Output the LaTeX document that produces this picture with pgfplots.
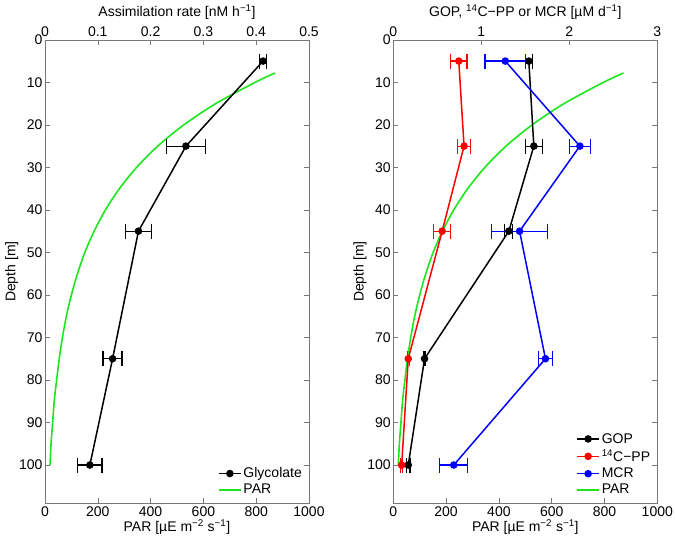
\documentclass[border=0pt]{standalone}
\usepackage{pgfplots}
\pgfplotsset{compat=1.18}
\usepackage{fontspec}
\setmainfont{Liberation Sans}
\definecolor{pargreen}{RGB}{30,230,30}
\definecolor{axgray}{RGB}{120,120,120}
\pgfplotstableread{
d par
7.8 872
10 796
15 647
20 526
25 427
30 347
35 282
40 229
45 186
50 151
55 123
60 100
65 81
70 66
75 54
80 44
85 35
90 29
95 23
100 19
}\partab
\pgfplotstableread{
x y e
0.413 5 0.006
0.267 25 0.037
0.177 45 0.025
0.128 75 0.018
0.085 100 0.023
}\glyc
\pgfplotstableread{
x y e
1.54 5 0.04
1.597 25 0.094
1.313 45 0.045
0.355 75 0.006
0.17 100 0.02
}\gop
\pgfplotstableread{
x y e
0.744 5 0.094
0.804 25 0.076
0.555 45 0.094
0.17 75 0.012
0.095 100 0.012
}\cpp
\pgfplotstableread{
x y e
1.272 5 0.23
2.12 25 0.12
1.435 45 0.315
1.729 75 0.08
0.687 100 0.16
}\mcr
\pgfplotsset{
  base/.style={scale only axis, width=264pt, height=463.5pt,
    ymin=0, ymax=109, y dir=reverse,
    tick align=inside, axis line style={axgray}, major tick length=5pt,
    every tick/.style={axgray, line width=0.5pt},
    every tick label/.append style={font=\fontsize{14}{16}\selectfont, text=black},
    /pgf/number format/assume math mode=true,
    /pgf/number format/set thousands separator={}},
  parax/.style={base, xmin=0, xmax=1000, xtick={0,200,...,1000}, xtick pos=bottom,
    ytick={0,10,...,100}, ytick pos=both,
    y tick label style={xshift=1pt},
    xlabel={PAR [µE m\textsuperscript{−2} s\textsuperscript{−1}]},
    ylabel={Depth [m]},
    xlabel style={font=\fontsize{14}{16}\selectfont, yshift=4pt},
    ylabel style={font=\fontsize{14}{16}\selectfont, yshift=-6pt}},
  dataax/.style={base, xtick pos=top, ytick=\empty,
    xlabel style={font=\fontsize{14}{16}\selectfont, at={(0.5,1)}, above, yshift=17pt},
    legend style={at={(0.985,0.01)}, anchor=south east, draw=none, fill=none,
      font=\fontsize{14}{16}\selectfont, row sep=1pt, inner sep=1pt},
    legend cell align=left,
    legend image code/.code={\draw[mark repeat=2,mark phase=2,##1] plot coordinates {(0cm,0cm) (0.38cm,0cm) (0.76cm,0cm)};}},
  ser/.style={#1, line width=1.5pt, mark=*, mark size=3pt, mark options={solid, fill=#1},
    error bars/.cd, x dir=both, x explicit,
    error bar style={line width=1.2pt, #1},
    error mark=|,
    error mark options={line width=1.2pt, mark size=7.5pt, #1}},
  pl/.style={pargreen, line width=1.6pt, no marks, smooth},
}
\begin{document}
\begin{tikzpicture}
\useasboundingbox (0,0) rectangle (675pt,542pt);
% left panel
\begin{axis}[parax, at={(45pt,38.7pt)}, anchor=south west]
\addplot[pl] table[x=par, y=d] {\partab};
\end{axis}
\begin{axis}[dataax, at={(45pt,38.7pt)}, anchor=south west,
  xmin=0, xmax=0.5, xtick={0,0.1,...,0.5},
  x tick label style={/pgf/number format/.cd, fixed, precision=1},
  xlabel={Assimilation rate [nM h\textsuperscript{−1}]}]
\addplot[ser=black] table[x=x, y=y, x error=e] {\glyc};
\addlegendentry{Glycolate}
\addlegendimage{pl}
\addlegendentry{PAR}
\end{axis}
% right panel
\begin{axis}[parax, at={(393.3pt,38.7pt)}, anchor=south west]
\addplot[pl] table[x=par, y=d] {\partab};
\end{axis}
\begin{axis}[dataax, at={(393.3pt,38.7pt)}, anchor=south west,
  xmin=0, xmax=3, xtick={0,1,2,3},
  xlabel={GOP, \textsuperscript{14}C−PP or MCR [µM d\textsuperscript{−1}]}]
\addplot[ser=black] table[x=x, y=y, x error=e] {\gop};
\addlegendentry{GOP}
\addplot[ser=red] table[x=x, y=y, x error=e] {\cpp};
\addlegendentry{\textsuperscript{14}C−PP}
\addplot[ser=blue] table[x=x, y=y, x error=e] {\mcr};
\addlegendentry{MCR}
\addlegendimage{pl}
\addlegendentry{PAR}
\end{axis}
\end{tikzpicture}
\end{document}
